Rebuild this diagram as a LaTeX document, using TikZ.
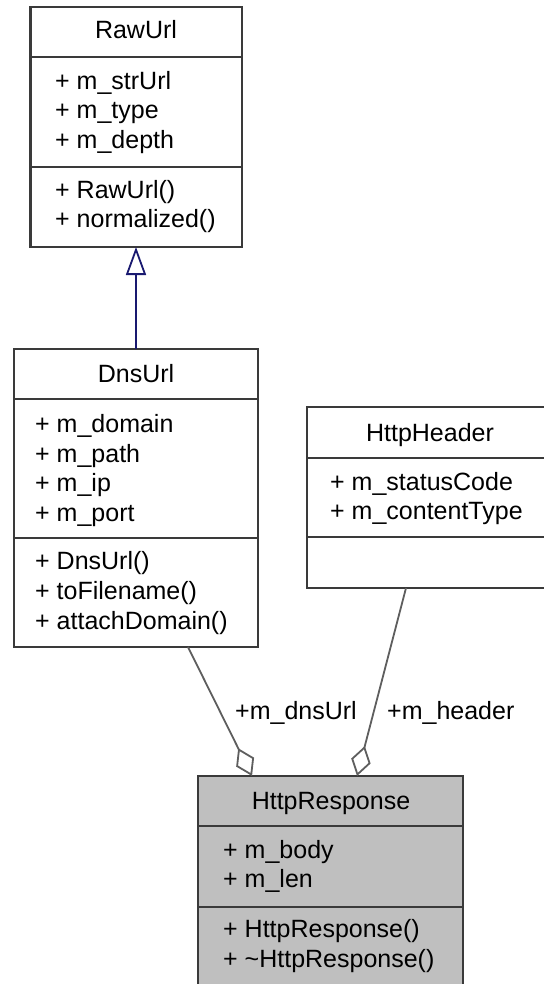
\documentclass[tikz,border=0pt]{standalone}
\usepackage{fontspec}
\setmainfont{Liberation Sans}
\usetikzlibrary{arrows.meta}
\definecolor{boxline}{HTML}{3A3A3A}
\definecolor{connline}{HTML}{5E5E5E}
\definecolor{inhline}{HTML}{191970}
\definecolor{respfill}{HTML}{BFBFBF}
\begin{document}
\begin{tikzpicture}[x=1pt,y=-1pt,
  umlbox/.style={draw=boxline, line width=2.3pt, rectangle, inner sep=0pt, outer sep=0pt},
  sepline/.style={draw=boxline, line width=2.3pt},
  txt/.style={font=\fontsize{25}{29}\selectfont, inner sep=0pt, text=black},
  member/.style={txt, anchor=base west},
  title/.style={txt, anchor=base},
  aggr/.style={draw=connline, line width=1.8pt, -{Diamond[open, length=31pt, width=20pt, fill=white]}},
  inherit/.style={draw=inhline, line width=1.8pt, -{Triangle[open, length=28pt, width=20pt, fill=white]}}
]
\useasboundingbox (0,0) rectangle (543,984);

% RawUrl
\node[umlbox, minimum width=211.5pt, minimum height=240pt] (raw) at (136.25,127) {};
\draw[sepline] (30.5,57) -- (242,57);
\draw[sepline] (30.5,167) -- (242,167);
\node[title] (rawT) at (136,39) {RawUrl};
\node[member] (rawA1) at (55,90) {+ m\_strUrl};
\node[member] (rawA2) at (55,119) {+ m\_type};
\node[member] (rawA3) at (55,149) {+ m\_depth};
\node[member] (rawM1) at (55,199) {+ RawUrl()};
\node[member] (rawM2) at (55,228) {+ normalized()};

% DnsUrl
\node[umlbox, minimum width=244pt, minimum height=298pt] (dns) at (136,498) {};
\draw[sepline] (14,399) -- (258,399);
\draw[sepline] (14,538) -- (258,538);
\node[title] (dnsT) at (136,382) {DnsUrl};
\node[member] (dnsA1) at (35,432) {+ m\_domain};
\node[member] (dnsA2) at (35,462) {+ m\_path};
\node[member] (dnsA3) at (35,491) {+ m\_ip};
\node[member] (dnsA4) at (35,521) {+ m\_port};
\node[member] (dnsM1) at (35,569) {+ DnsUrl()};
\node[member] (dnsM2) at (35,599) {+ toFilename()};
\node[member] (dnsM3) at (35,629) {+ attachDomain()};

% HttpHeader
\node[umlbox, minimum width=246pt, minimum height=181pt] (hdr) at (430,497.5) {};
\draw[sepline] (307,458) -- (553,458);
\draw[sepline] (307,537) -- (553,537);
\node[title] (hdrT) at (430,441) {HttpHeader};
\node[member] (hdrA1) at (330,490) {+ m\_statusCode};
\node[member] (hdrA2) at (330,519) {+ m\_contentType};

% HttpResponse
\node[umlbox, fill=respfill, minimum width=265pt, minimum height=212pt] (resp) at (330.5,882) {};
\draw[sepline] (198,826) -- (463,826);
\draw[sepline] (198,907) -- (463,907);
\node[title] (respT) at (331,809) {HttpResponse};
\node[member] (respA1) at (223,858) {+ m\_body};
\node[member] (respA2) at (223,887) {+ m\_len};
\node[member] (respM1) at (223,937) {+ HttpResponse()};
\node[member] (respM2) at (223,967) {+ \textasciitilde HttpResponse()};

% connectors
\draw[inherit] (dns.north) -- (dns.north |- raw.south);
\coordinate (dnsOut) at (188,647);
\coordinate (respIn1) at (252,776);
\coordinate (hdrOut) at (406,588);
\coordinate (respIn2) at (357,776);
\draw[aggr] (dnsOut) -- (respIn1);
\draw[aggr] (hdrOut) -- (respIn2);
\node[member] (lblDns) at (235,719) {+m\_dnsUrl};
\node[member] (lblHdr) at (387,719) {+m\_header};
\end{tikzpicture}
\end{document}
